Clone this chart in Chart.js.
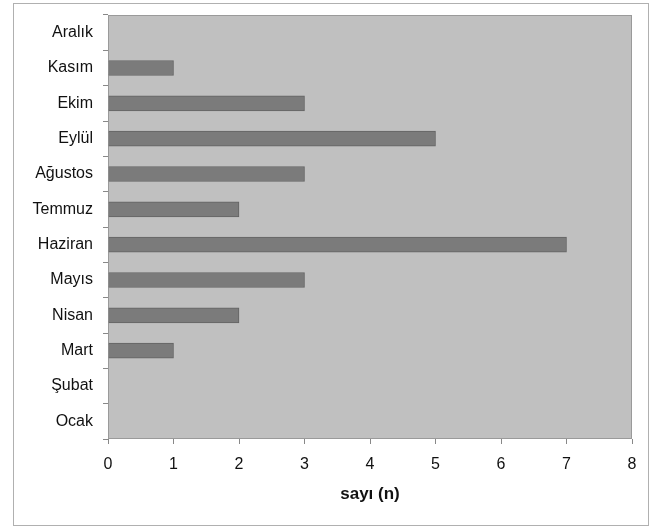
<!DOCTYPE html>
<html>
<head>
<meta charset="utf-8">
<script src="https://cdn.jsdelivr.net/npm/chart.js@4"></script>
<style>
  body { margin: 0; background: #fff; }
  #wrap { position: relative; width: 651px; height: 527px; }
  #frame { position: absolute; left: 13px; top: 3px; width: 634px; height: 521px; border: 1px solid #b0b0b0; pointer-events: none; }
</style>
</head>
<body>
<div id="wrap">
  <canvas id="chart" width="651" height="527"></canvas>
  <div id="frame"></div>
</div>
<script>
// months bottom -> top (Ocak at the bottom)
const months = ["Ocak", "Şubat", "Mart", "Nisan", "Mayıs", "Haziran", "Temmuz", "Ağustos", "Eylül", "Ekim", "Kasım", "Aralık"];
const counts = [0, 0, 1, 2, 3, 7, 2, 3, 5, 3, 1, 0];
const xTicks = [0, 1, 2, 3, 4, 5, 6, 7, 8];

// grey plot area like the old Excel charts
const plotBg = {
  id: "plotBg",
  beforeDraw(chart) {
    const { ctx, chartArea: a } = chart;
    ctx.save();
    ctx.fillStyle = "#c0c0c0";
    ctx.fillRect(a.left, a.top, a.right - a.left, a.bottom - a.top);
    ctx.strokeStyle = "#9a9a9a";
    ctx.lineWidth = 1;
    ctx.strokeRect(a.left + 0.5, a.top + 0.5, a.right - a.left - 1, a.bottom - a.top - 1);
    ctx.restore();
  },
};

Chart.defaults.font.family = "'Liberation Sans', Arial, sans-serif";
Chart.defaults.color = "#111";

new Chart(document.getElementById("chart"), {
  type: "bar",
  data: {
    labels: months,
    datasets: [
      {
        data: counts,
        backgroundColor: "#7b7b7b",
        borderColor: "#636363",
        borderWidth: 1,
        barThickness: 15,
      },
    ],
  },
  options: {
    indexAxis: "y",
    responsive: false,
    animation: false,
    layout: { padding: { left: 13, top: 15, right: 19, bottom: 22 } },
    plugins: { legend: { display: false }, tooltip: { enabled: false } },
    scales: {
      y: {
        reverse: true,
        grid: { drawOnChartArea: false, tickLength: 5, color: "#888" },
        border: { display: false },
        ticks: { font: { size: 16 }, padding: 10 },
        afterFit(s) {
          s.width = 95;
          s.paddingTop = 0;
          s.paddingBottom = 0;
        },
      },
      x: {
        min: 0,
        max: 8,
        afterBuildTicks(s) { s.ticks = xTicks.map((v) => ({ value: v })); },
        grid: { drawOnChartArea: false, tickLength: 5, color: "#888" },
        border: { display: false },
        ticks: { font: { size: 16 }, padding: 11 },
        title: { display: true, text: "sayı (n)", font: { size: 17, weight: "bold" }, padding: { top: 0, bottom: 0 } },
        afterFit(s) { s.height = 66; },
      },
    },
  },
  plugins: [plotBg],
});
</script>
</body>
</html>
